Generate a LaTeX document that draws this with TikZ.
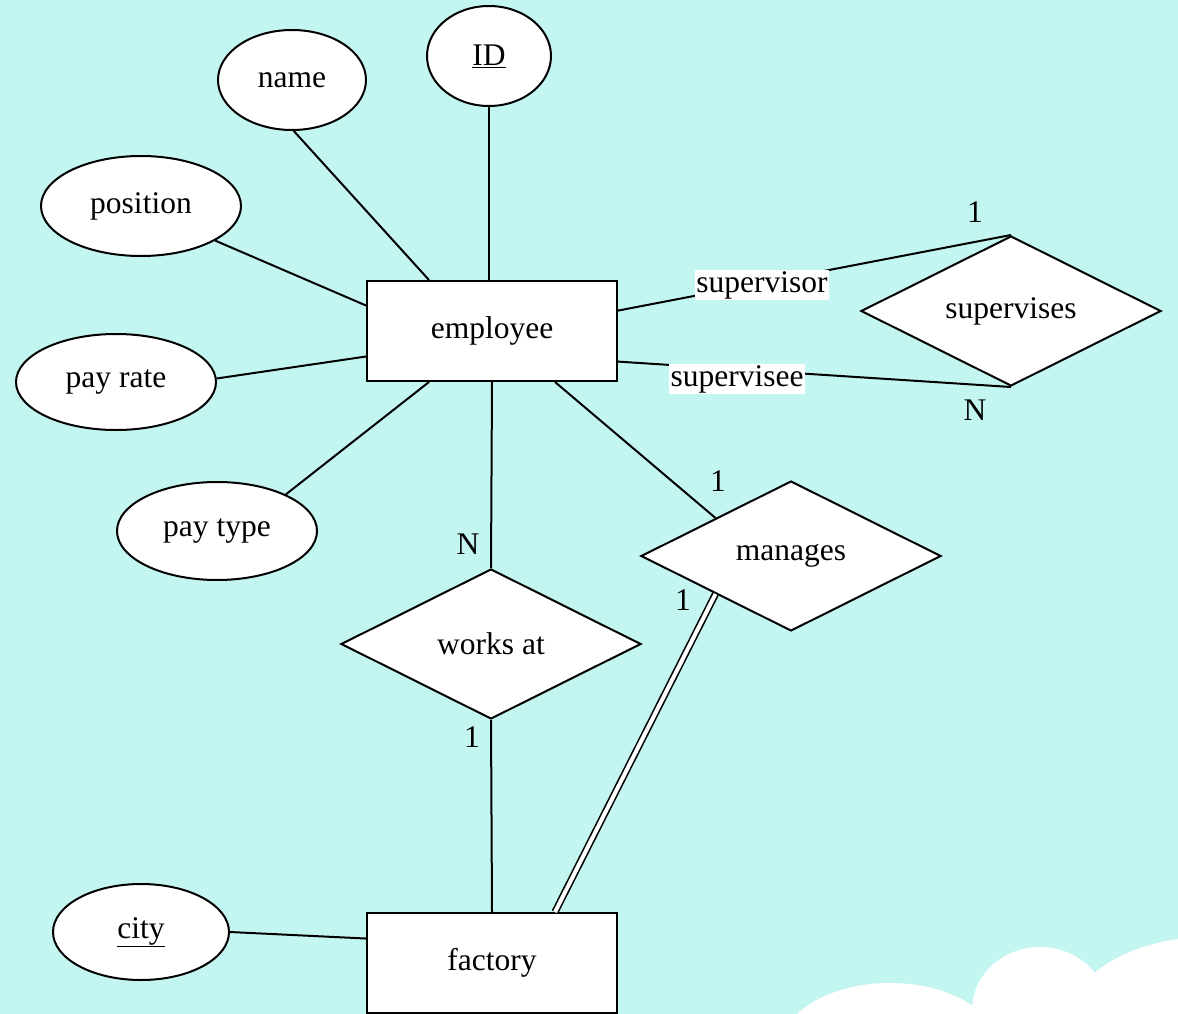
\documentclass[tikz,border=0pt]{standalone}
\usepackage{fontspec}
\setmainfont{Liberation Serif}
\usetikzlibrary{shapes.geometric,calc}
\definecolor{skybg}{RGB}{196,246,241}
\begin{document}
\begin{tikzpicture}[x=1pt,y=-1pt,
  every node/.style={font=\fontsize{31.5}{36}\selectfont},
  entity/.style={draw, fill=white, line width=2pt, minimum width=250pt, minimum height=100pt, inner sep=0pt},
  attr/.style={draw, fill=white, ellipse, line width=2pt, inner sep=0pt},
  rel/.style={draw, fill=white, diamond, aspect=2, line width=2pt, minimum width=300pt, minimum height=150pt, inner sep=0pt},
  link/.style={line width=2pt},
  card/.style={inner sep=0pt},
  role/.style={fill=white, inner sep=1.5pt}]

% canvas and cloud
\useasboundingbox (0,0) rectangle (1178,1014);
\fill[skybg] (0,0) rectangle (1178,1014);
\begin{scope}
  \clip (0,0) rectangle (1178,1014);
  \fill[white] (890,1050) ellipse [x radius=110, y radius=67];
  \fill[white] (1040,1010) ellipse [x radius=68, y radius=63];
  \fill[white] (1210,1020) ellipse [x radius=140, y radius=83];
  \fill[white] (973,1006) rectangle (1178,1014);
\end{scope}

% entities
\node[entity] (emp) at (492,331) {employee};
\node[entity] (fac) at (492,963) {factory};

% attributes
\node[attr, minimum width=124pt, minimum height=100pt] (id) at (489,56) {\underline{ID}};
\node[attr, minimum width=148pt, minimum height=100pt] (name) at (292,80) {name};
\node[attr, minimum width=200pt, minimum height=100pt] (pos) at (141,206) {position};
\node[attr, minimum width=200pt, minimum height=96pt] (rate) at (116,382) {pay rate};
\node[attr, minimum width=200pt, minimum height=98pt] (ptype) at (217,531) {pay type};
\node[attr, minimum width=176pt, minimum height=96pt] (city) at (141,932) {\underline{city}};

% relationships
\node[rel] (works) at (491,644) {works at};
\node[rel] (mng) at (791,556) {manages};
\node[rel] (sup) at (1011,311) {supervises};

% attribute links
\draw[link] (id.south) -- (emp.north -| id.south);
\draw[link] (name.-88) -- ($(emp.north west)!0.25!(emp.north east)$);
\draw[link] (pos.-25) -- ($(emp.north west)!0.25!(emp.south west)$);
\draw[link] (rate.2) -- ($(emp.north west)!0.75!(emp.south west)$);
\draw[link] (ptype.28) -- ($(emp.south west)!0.25!(emp.south east)$);
\draw[link] (city.east) -- ($(fac.north west)!0.26!(fac.south west)$);

% relationship links
\draw[link] (emp.south) -- (works.north);
\draw[link] (works.south) -- (fac.north);
\draw[link] ($(emp.south west)!0.75!(emp.south east)$) -- ($(mng.west)!0.5!(mng.north)$);
\draw[line width=1.6pt, double, double distance=4pt] ($(mng.west)!0.5!(mng.south)$) -- ($(fac.north west)!0.75!(fac.north east)$);
\draw[link] ($(emp.north east)!0.3!(emp.south east)$) -- (sup.north);
\draw[link] ($(emp.north east)!0.8!(emp.south east)$) -- (sup.south);

% role names
\node[role] (rsup) at (762,285) {supervisor};
\node[role] (rsub) at (737,379) {supervisee};

% cardinalities
\node[card] (c1) at (975,212) {1};
\node[card] (c2) at (975,410) {N};
\node[card] (c3) at (718,481) {1};
\node[card] (c4) at (683,600) {1};
\node[card] (c5) at (468,544) {N};
\node[card] (c6) at (472,737) {1};
\end{tikzpicture}
\end{document}
